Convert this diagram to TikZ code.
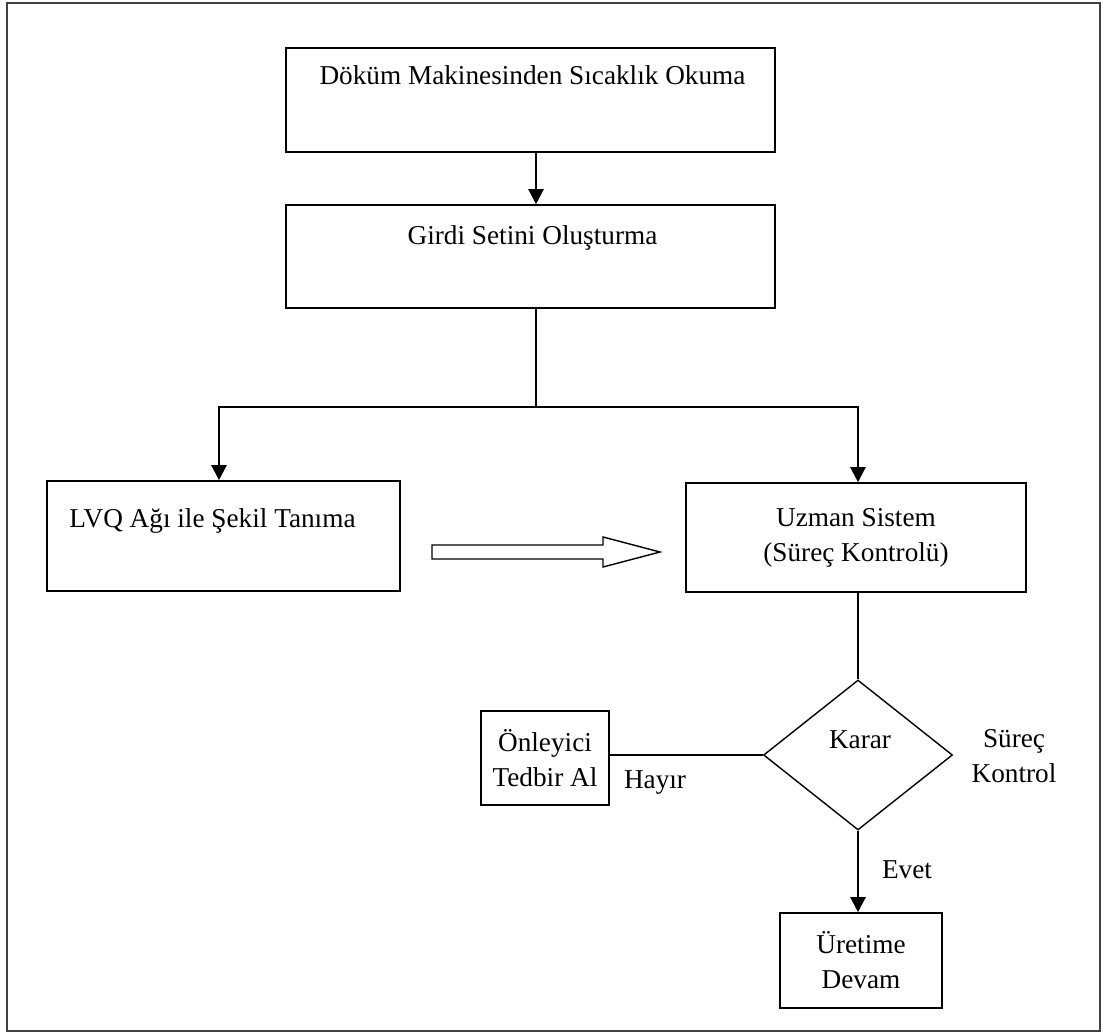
\documentclass[tikz,border=0pt]{standalone}
\usepackage{fontspec}
\setmainfont{Liberation Serif}
\usetikzlibrary{shapes.geometric, arrows.meta, positioning}

\begin{document}
\begin{tikzpicture}[
    box/.style={rectangle, draw, line width=0.9pt, align=center, inner sep=0pt},
    txt/.style={align=center, font=\fontsize{15.5pt}{20pt}\selectfont},
    flow/.style={-{Triangle[length=0.3cm, width=0.3cm]}, line width=1.3pt},
    link/.style={line width=0.8pt}
]
\useasboundingbox (0,0) rectangle (22.06,-20.68);
\draw[black!75, line width=0.9pt] (0.14,-0.06) rectangle (22.0,-20.62);
\node[box, minimum width=9.78cm, minimum height=2.08cm] (read) at (10.61,-2.0) {};
\node[txt] (readtxt) at (10.65,-1.5) {Döküm Makinesinden Sıcaklık Okuma};
\node[box, minimum width=9.78cm, minimum height=2.06cm] (input) at (10.61,-5.13) {};
\node[txt] (inputtxt) at (10.65,-4.76) {Girdi Setini Oluşturma};
\node[box, minimum width=7.06cm, minimum height=2.2cm] (lvq) at (4.47,-10.72) {};
\node[txt] (lvqtxt) at (4.25,-10.42) {LVQ Ağı ile Şekil Tanıma};
\node[box, txt, minimum width=6.8cm, minimum height=2.18cm] (expert) at (17.12,-10.75) {Uzman Sistem\\(Süreç Kontrolü)};
\node[diamond, draw, link, minimum width=3.78cm, minimum height=3.0cm, inner sep=0pt] (decide) at (17.16,-15.1) {};
\node[txt] (decidetxt) at (17.2,-14.8) {Karar};
\node[box, txt, minimum width=2.56cm, minimum height=1.88cm] (prevent) at (10.9,-15.16) {Önleyici\\Tedbir Al};
\node[box, txt, minimum width=3.24cm, minimum height=1.9cm] (produce) at (17.22,-19.21) {Üretime\\Devam};
\node[txt] (no) at (13.1,-15.66) {Hayır};
\node[txt] (yes) at (18.14,-17.4) {Evet};
\node[txt] (ctrl) at (20.28,-15.13) {Süreç\\Kontrol};
% hollow arrow between the two middle boxes
\coordinate (hollow) at (8.64,-11.04);
\draw[link] (hollow) ++(0,0.14) -- ++(3.42,0) -- ++(0,0.16) -- (13.2,-11.04)
    -- (12.06,-11.34) -- ++(0,0.16) -- ++(-3.42,0) -- cycle;
\draw[flow] ([xshift=0.11cm]read.south) -- ([xshift=0.11cm]input.north);
\draw[link] ([xshift=0.11cm]input.south) -- ++(0,-1.96) coordinate (split);
\draw[flow] (split) -| ([xshift=-0.09cm]lvq.north);
\draw[flow] (split) -| ([xshift=0.04cm]expert.north);
\draw[link] (expert.south -| decide.north) -- (decide.north);
\draw[link] (decide.west) -- (decide.west -| prevent.east);
\draw[flow] (decide.south) -- (decide.south |- produce.north);
\end{tikzpicture}
\end{document}
